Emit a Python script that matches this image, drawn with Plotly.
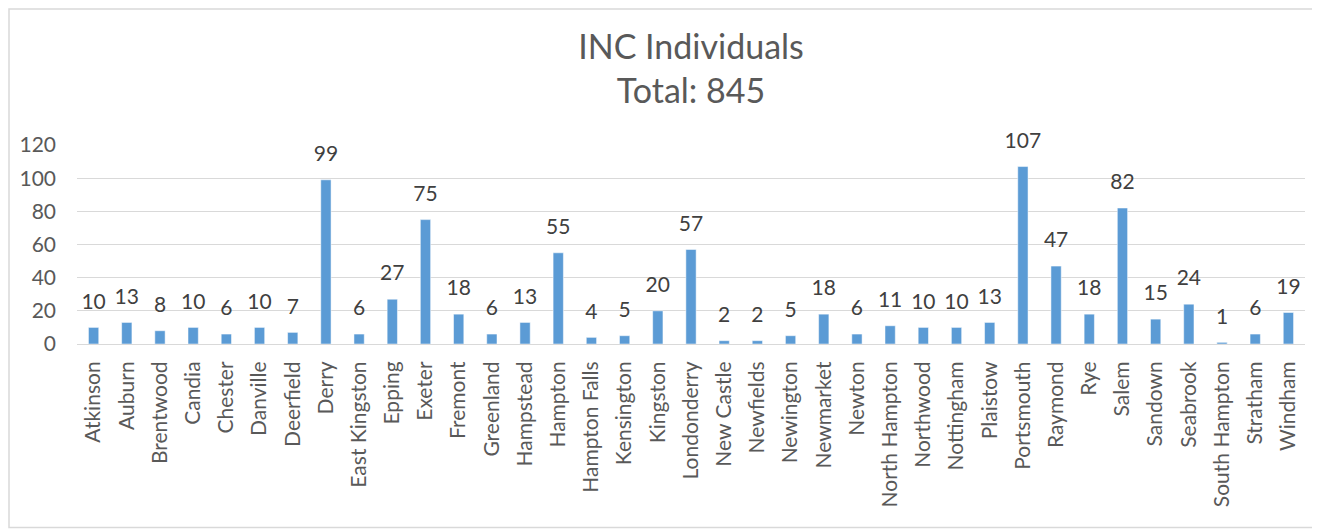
import plotly.graph_objects as go

towns = [
    "Atkinson", "Auburn", "Brentwood", "Candia", "Chester", "Danville",
    "Deerfield", "Derry", "East Kingston", "Epping", "Exeter", "Fremont",
    "Greenland", "Hampstead", "Hampton", "Hampton Falls", "Kensington",
    "Kingston", "Londonderry", "New Castle", "Newfields", "Newington",
    "Newmarket", "Newton", "North Hampton", "Northwood", "Nottingham",
    "Plaistow", "Portsmouth", "Raymond", "Rye", "Salem", "Sandown",
    "Seabrook", "South Hampton", "Stratham", "Windham",
]
individuals = [
    10, 13, 8, 10, 6, 10, 7, 99, 6, 27, 75, 18, 6, 13, 55, 4, 5, 20, 57,
    2, 2, 5, 18, 6, 11, 10, 10, 13, 107, 47, 18, 82, 15, 24, 1, 6, 19,
]
y_ticks = [0, 20, 40, 60, 80, 100, 120]

FONT = "Lato, 'Open Sans', sans-serif"
# page body has an 8px margin, so the figure is sized to fit the window
W, H = 1312, 523
M = dict(l=69, r=15, t=137, b=187)

fig = go.Figure()
fig.add_bar(
    x=towns,
    y=individuals,
    marker_color="#5B9BD5",
    hoverinfo="x+y",
)
# value labels, floated above the bars
fig.add_scatter(
    x=towns,
    y=individuals,
    mode="markers+text",
    marker=dict(size=20, color="rgba(0,0,0,0)"),
    text=[str(v) for v in individuals],
    textposition="top center",
    textfont=dict(family=FONT, size=21, color="#404040"),
    cliponaxis=False,
    hoverinfo="skip",
)

pw = W - M["l"] - M["r"]
ph = H - M["t"] - M["b"]

fig.update_layout(
    width=W,
    height=H,
    margin=M,
    template="plotly_white",
    plot_bgcolor="white",
    paper_bgcolor="white",
    bargap=0.69,
    showlegend=False,
    title=dict(
        text="INC Individuals<br>Total: 845",
        x=0.5,
        xref="paper",
        y=1 - 51 / H,
        yanchor="middle",
        font=dict(family=FONT, size=34, color="#595959"),
    ),
    font=dict(family=FONT, color="#595959"),
    shapes=[
        dict(
            type="rect",
            xref="paper", yref="paper",
            x0=-(M["l"] - 1) / pw, x1=1 + (M["r"] - 1.5) / pw,
            y0=-(M["b"] - 3.5) / ph, y1=1 + (M["t"] - 1) / ph,
            line=dict(color="#D9D9D9", width=1.5),
            fillcolor="rgba(0,0,0,0)",
            layer="below",
        )
    ],
)
fig.update_xaxes(
    automargin=False,
    range=[-0.5, len(towns) - 0.5],
    tickangle=-90,
    tickfont=dict(family=FONT, size=21, color="#595959"),
    showgrid=False,
    showline=True,
    linecolor="#D9D9D9",
    linewidth=1,
    ticks="",
    ticklabelstandoff=8,
)
fig.update_yaxes(
    automargin=False,
    range=[0, 120],
    tickvals=y_ticks,
    tickfont=dict(family=FONT, size=21, color="#595959"),
    showgrid=True,
    gridcolor="#D9D9D9",
    gridwidth=1,
    zeroline=False,
    showline=False,
    ticks="",
    ticklabelstandoff=20,
)

fig.write_html("out.html")
